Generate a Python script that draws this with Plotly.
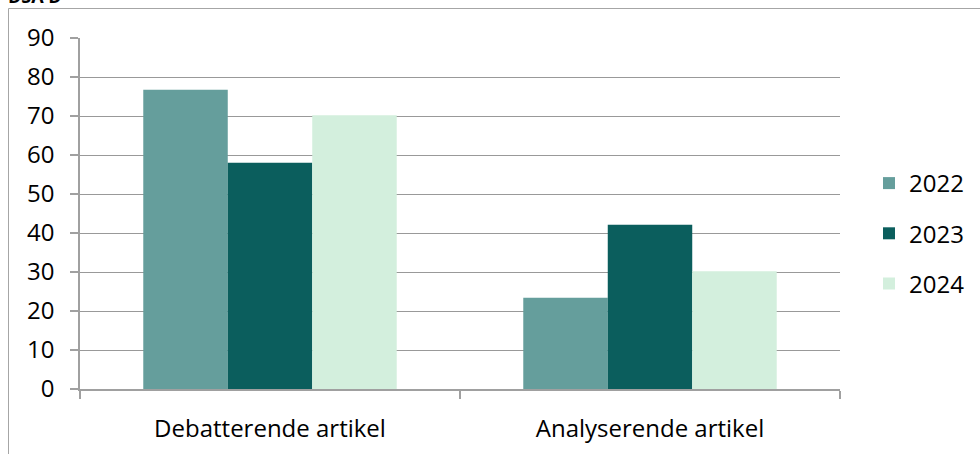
import plotly.graph_objects as go

categories = ["Debatterende artikel", "Analyserende artikel"]
years = ["2022", "2023", "2024"]
values_2022 = [76.7, 23.4]
values_2023 = [58.0, 42.1]
values_2024 = [70.2, 30.2]
y_ticks = [0, 10, 20, 30, 40, 50, 60, 70, 80, 90]

colors = {"2022": "#659e9c", "2023": "#0b5e5d", "2024": "#d3efdd"}
series = {"2022": values_2022, "2023": values_2023, "2024": values_2024}

FONT = "Segoe UI, Open Sans, Noto Sans, sans-serif"

fig = go.Figure()
for yr in years:
    fig.add_trace(go.Bar(
        x=categories, y=series[yr], name=yr, legendgroup=yr,
        marker=dict(color=colors[yr], line=dict(width=0)),
    ))

W, H = 980, 454
L, R, T, B = 80, 140, 38, 65
pw, ph = W - L - R, H - T - B

def px(x):
    return (x - L) / pw

def py(y):
    return (H - B - y) / ph

fig.update_layout(
    width=W, height=H,
    margin=dict(l=L, r=R, t=T, b=B, autoexpand=False),
    paper_bgcolor="white", plot_bgcolor="white",
    barmode="group", bargap=0.333, bargroupgap=0,
    font=dict(family=FONT, size=24, color="#000000"),
    showlegend=True,
    legend=dict(
        x=px(869), y=py(161), xanchor="left", yanchor="top",
        font=dict(family=FONT, size=24, color="#000000"),
        itemwidth=30, tracegroupgap=16, traceorder="grouped",
        bgcolor="rgba(0,0,0,0)",
    ),
    xaxis=dict(
        showgrid=False, showline=True, linecolor="#a0a0a0", linewidth=1.5,
        ticks="outside", tickson="boundaries", ticklen=8, tickcolor="#a0a0a0",
        tickwidth=1.5, tickfont=dict(family=FONT, size=24),
        ticklabelstandoff=17,
    ),
    yaxis=dict(
        range=[0, 90], tickvals=y_ticks, showgrid=True, gridcolor="#999999",
        gridwidth=1.2, showline=True, linecolor="#a0a0a0", linewidth=1.5,
        ticks="outside", ticklen=8, tickcolor="#a0a0a0", tickwidth=1.5,
        tickfont=dict(family=FONT, size=24), zeroline=False,
        ticklabelstandoff=11,
    ),
    shapes=[dict(
        type="rect", xref="paper", yref="paper",
        x0=px(8.5), x1=px(1000), y0=py(470), y1=py(8.5),
        line=dict(color="#a6a6a6", width=1), fillcolor="rgba(0,0,0,0)",
        layer="below",
    )],
    annotations=[dict(
        text="<b>DSA D</b>", xref="paper", yref="paper",
        x=px(6), y=py(10), xanchor="left", yanchor="bottom",
        showarrow=False, font=dict(family=FONT, size=18, color="#000000"),
    )],
)

fig.write_html(
    "out.html",
    config={"displayModeBar": False},
    post_script="document.body.style.margin='0';document.body.style.overflow='hidden';",
)
